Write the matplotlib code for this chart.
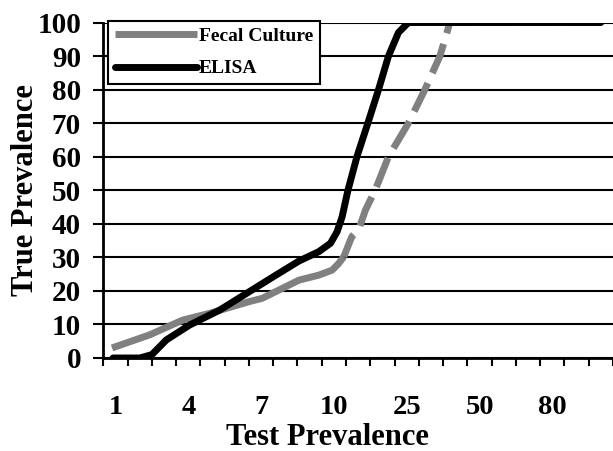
import numpy as np
import matplotlib
matplotlib.use("Agg")
import matplotlib.pyplot as plt

plt.rcParams['font.family'] = ['Liberation Serif', 'DejaVu Serif']
plt.rcParams['font.weight'] = 'bold'

# Category axis (Test Prevalence)
categories = [1, 2, 3, 4, 5, 6, 7, 8, 9, 10, 15, 20, 25, 30, 40, 50, 60, 70, 80, 90, 100]
shown_labels = [1, 4, 7, 10, 25, 50, 80]

# ELISA curve
elisa_x = [0.9, 2.0, 2.5, 3.1, 4.05, 5.3, 6.5, 7.5, 8.56, 9.38, 9.86, 10.65, 11.7, 12.9,
           14.75, 17.0, 19.2, 21.25, 23.3, 25.35, 100]
elisa_y = [0, 0, 1.0, 5.4, 9.8, 14.3, 19.7, 24.2, 28.9, 31.7, 34.2, 37.6, 42.1, 50,
           60, 70, 80, 90, 97, 100, 100]

# Fecal culture curve
fecal_x = [0.86, 2.41, 3.77, 4.87, 6.51, 7.05, 8.56, 9.38, 9.93, 11.0, 12.05, 13.7, 15.1,
           16.5, 18.5, 21.25, 25.35, 28.75, 33.7, 37.8, 100]
fecal_y = [3, 6.9, 11.3, 13.3, 16.8, 17.8, 23.2, 24.7, 26.2, 28.2, 30.2, 36.2, 38.2,
           44.1, 50, 60, 70, 80, 90, 100, 100]

y_ticks = list(range(0, 101, 10))

# piecewise-linear category scale
ext_vals = np.array([0.0] + categories + [110.0])
ext_idx = np.array([-1.0] + list(range(len(categories))) + [float(len(categories))])

def forward(x):
    return np.interp(x, ext_vals, ext_idx)

def inverse(p):
    return np.interp(p, ext_idx, ext_vals)

fig = plt.figure(figsize=(6.13, 4.51), dpi=100)
ax = fig.add_axes([103.3 / 613, (451 - 358) / 451, (613 - 103.3) / 613, (358 - 22.5) / 451])
ax.set_xscale('function', functions=(forward, inverse))

fx = np.array(fecal_x)
fy = np.array(fecal_y)
solid = fx <= 12.05
dashed = fx >= 12.05
ax.plot(fx[solid], fy[solid], color='#808080', lw=5.0, solid_capstyle='butt',
        solid_joinstyle='round', label='Fecal Culture', zorder=3)
ax.plot(fx[dashed], fy[dashed], color='#808080', lw=5.0, linestyle=(1.0, (4.5, 1.6)),
        dash_capstyle='butt', zorder=3)
ax.plot(elisa_x, elisa_y, color='black', lw=5.0, solid_capstyle='round',
        solid_joinstyle='round', label='ELISA', zorder=4)

ax.set_xlim(inverse(-0.5), inverse(20.4))
ax.set_ylim(0, 100)

# gridlines
ax.set_yticks(y_ticks)
ax.yaxis.grid(True, color='black', lw=1.5)
ax.set_axisbelow(True)

# x ticks: boundaries as minor ticks, labels at category centers
bounds = inverse(np.arange(-0.5, len(categories) + 0.5, 1.0))
ax.set_xticks(bounds, minor=True)
ax.set_xticks(shown_labels)
ax.set_xticklabels([str(v) for v in shown_labels])
ax.tick_params(axis='x', which='major', length=0, pad=27, labelsize=20.5)
ax.tick_params(axis='x', which='minor', length=6, width=1.5, direction='out', color='black')
ax.tick_params(axis='y', which='major', length=7, width=1.5, direction='out', pad=9, labelsize=21)

for s in ['top', 'right']:
    ax.spines[s].set_visible(False)
for s in ['left', 'bottom']:
    ax.spines[s].set_linewidth(2)
    ax.spines[s].set_color('black')

ax.set_xlabel('Test Prevalence', fontsize=22, fontweight='bold')
ax.xaxis.set_label_coords(0.439, -0.195)
ax.set_ylabel('True Prevalence', fontsize=22, fontweight='bold')
ax.yaxis.set_label_coords(-0.125, 0.5)

leg = ax.legend(loc='upper left', bbox_to_anchor=(0.0098, 1.0054), borderaxespad=0,
                prop={'size': 14, 'weight': 'bold'}, handlelength=4.2, handletextpad=0.1,
                labelspacing=0.76, borderpad=0.35, fancybox=False, framealpha=1,
                edgecolor='black')
leg.get_frame().set_linewidth(1.5)
leg.set_zorder(10)

fig.savefig('out.png', dpi=100)
